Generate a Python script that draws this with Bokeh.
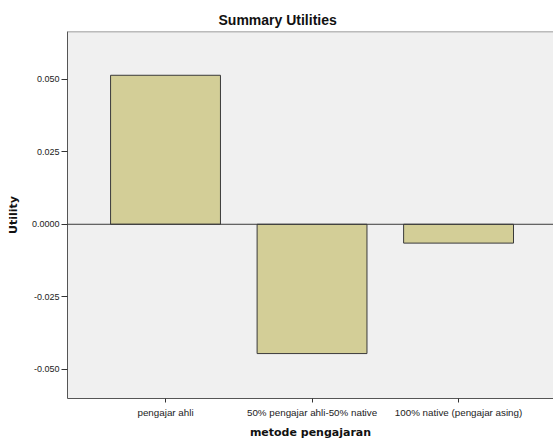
from bokeh.plotting import figure
from bokeh.models import Range1d, FixedTicker, Span, CustomJSTickFormatter
from bokeh.embed import file_html
from bokeh.resources import INLINE

categories = ["pengajar ahli", "50% pengajar ahli-50% native", "100% native (pengajar asing)"]
utilities = [0.0514, -0.0446, -0.0065]
y_ticks = [-0.050, -0.025, 0.0, 0.025, 0.050]
y_tick_labels = ["-0.050", "-0.025", "0.0000", "0.025", "0.050"]

xs = list(range(len(categories)))

p = figure(width=553, height=441, output_backend="svg", toolbar_location=None,
           x_range=Range1d(-0.669, 2.648), y_range=Range1d(-0.0601, 0.0665),
           min_border_left=67, min_border_right=0, min_border_top=31, min_border_bottom=42)

p.background_fill_color = "#f0f0f0"
p.border_fill_color = "white"
p.outline_line_color = None
p.grid.visible = False

p.vbar(x=xs, top=utilities, bottom=0, width=0.75,
       fill_color="#d3ce97", line_color="#3a3a3a", line_width=1)

p.add_layout(Span(location=0, dimension="width", line_color="#3a3a3a", line_width=1))
# top border of the plot frame (no right border in the original)
p.add_layout(Span(location=p.y_range.end, dimension="width", line_color="#808080", line_width=1.5))

p.title.text = "Summary Utilities"
p.title.text_font = "Liberation Sans"
p.title.text_font_size = "14px"
p.title.text_font_style = "bold"
p.title.text_color = "#111111"
p.title.align = "left"
p.title.offset = 151
p.title.standoff = 8

p.xaxis.ticker = FixedTicker(ticks=xs)
p.xaxis.major_label_overrides = {i: c for i, c in enumerate(categories)}
p.xaxis.axis_label = "metode pengajaran"
p.yaxis.ticker = FixedTicker(ticks=y_ticks)
p.yaxis.formatter = CustomJSTickFormatter(
    args=dict(vals=y_ticks, labels=y_tick_labels),
    code="""
    let best = 0, d = Infinity;
    for (let i = 0; i < vals.length; i++) {
        const e = Math.abs(vals[i] - tick);
        if (e < d) { d = e; best = i; }
    }
    return labels[best];
    """)
p.yaxis.axis_label = "Utility"

for ax in (p.xaxis[0], p.yaxis[0]):
    ax.axis_line_color = "#555555"
    ax.major_tick_line_color = "#333333"
    ax.major_tick_in = 0
    ax.minor_tick_line_color = None
    ax.major_label_text_font = "Liberation Sans"
    ax.major_label_text_color = "#222222"
    ax.axis_label_text_font = "DejaVu Sans"
    ax.axis_label_text_font_size = "11px"
    ax.axis_label_text_font_style = "bold"
    ax.axis_label_text_color = "#111111"

p.xaxis.major_tick_out = 4
p.yaxis.major_tick_out = 6
p.xaxis.major_label_text_font_size = "9.8px"
p.yaxis.major_label_text_font_size = "9px"
p.xaxis.major_label_standoff = 4
p.xaxis.axis_label_standoff = 5
p.yaxis.major_label_standoff = 2
p.yaxis.axis_label_standoff = 9

open("out.html", "w").write(file_html(p, INLINE))
